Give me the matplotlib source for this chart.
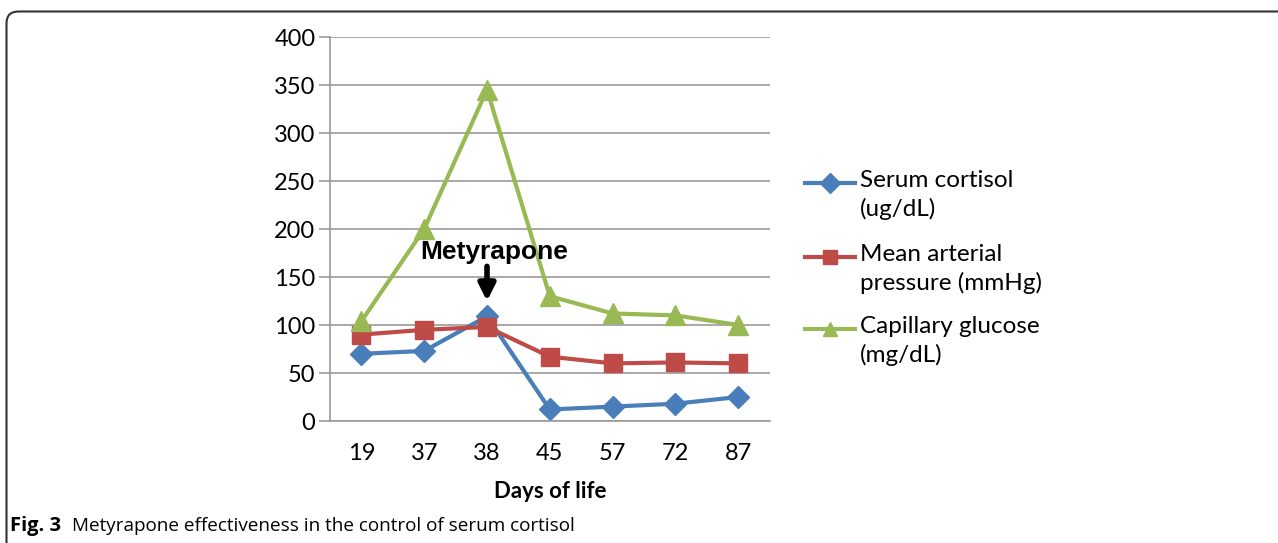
import matplotlib
matplotlib.use("Agg")
import matplotlib.pyplot as plt
from matplotlib.lines import Line2D
from matplotlib.path import Path
from matplotlib.patches import PathPatch

days = ["19", "37", "38", "45", "57", "72", "87"]
cortisol = [70, 73, 109, 12, 15, 18, 25]
pressure = [90, 95, 98, 67, 60, 61, 60]
glucose = [104, 200, 345, 130, 112, 110, 100]
yticks = [0, 50, 100, 150, 200, 250, 300, 350, 400]
labels = ["Serum cortisol\n(ug/dL)", "Mean arterial\npressure (mmHg)", "Capillary glucose\n(mg/dL)"]

W, H = 1278, 543
fig = plt.figure(figsize=(W / 100, H / 100), dpi=100)
plt.rcParams['font.family'] = ['Lato', 'DejaVu Sans']

colors = ['#4A7EBB', '#BE4B48', '#98B954']
markers = ['D', 's', '^']
msizes = [11, 13, 14]

ax = fig.add_axes([330 / W, 1 - 421 / H, (769.6 - 330) / W, (421 - 37) / H])
x = list(range(len(days)))
for vals, c, m, ms, lab in zip([cortisol, pressure, glucose], colors, markers, msizes, labels):
    ax.plot(x, vals, color=c, lw=3, marker=m, ms=ms, label=lab)

ax.set_xlim(-0.5, len(days) - 0.5)
ax.set_ylim(0, 400)
ax.set_yticks(yticks)
ax.set_xticks(x)
ax.set_xticklabels(days)
ax.yaxis.grid(True, color='#9A9A9A', lw=1.2)
ax.set_axisbelow(True)
for s in ['top', 'right']:
    ax.spines[s].set_visible(False)
for s in ['left', 'bottom']:
    ax.spines[s].set_color('#9A9A9A')
    ax.spines[s].set_linewidth(1.2)
ax.tick_params(axis='y', length=8, color='#9A9A9A', width=1.2, labelsize=17, pad=2.5)
ax.tick_params(axis='x', length=0, labelsize=17, pad=16)
ax.set_xlabel("Days of life", fontsize=16, fontweight='bold', labelpad=12)

# annotation
ax.text(2.12, 176, "Metyrapone", fontsize=19, fontweight='bold', ha='center', va='center',
        family=['Liberation Sans', 'DejaVu Sans'])
ax.annotate("", xy=(2, 122), xytext=(2, 164),
            arrowprops=dict(arrowstyle='-|>,head_width=0.5,head_length=1.0', color='black', lw=4))

# legend drawn manually (handle aligned with the first text line)
first_line_y = [183, 257, 329]
for yy, c, m, lab in zip(first_line_y, colors, markers, labels):
    fy = 1 - yy / H
    fig.add_artist(Line2D([805 / W, 855 / W], [fy, fy], transform=fig.transFigure,
                          color=c, lw=3))
    fig.add_artist(Line2D([830 / W], [fy], transform=fig.transFigure, color=c,
                          marker=m, ms=10, lw=0))
    fig.text(860 / W, 1 - (yy - 13) / H, lab, fontsize=17.5, va='top', ha='left',
             linespacing=1.38)

# frame with rounded top-left corner
r = 12
fy0 = 1 - 11.5 / H
verts = [(1.0, fy0), ((6.5 + r) / W, fy0), (6.5 / W, fy0), (6.5 / W, 1 - (11.5 + r) / H), (6.5 / W, 0.0)]
codes = [Path.MOVETO, Path.LINETO, Path.CURVE3, Path.CURVE3, Path.LINETO]
fig.patches.append(PathPatch(Path(verts, codes), transform=fig.transFigure, fill=False,
                             edgecolor='#333333', lw=1.5))

fig.text(10 / W, 1 - 526 / H, "Fig. 3", fontsize=14.5, fontweight='bold', va='center',
         family=['Open Sans', 'DejaVu Sans'])
fig.text(72 / W, 1 - 526 / H, "Metyrapone effectiveness in the control of serum cortisol",
         fontsize=13.6, va='center', family=['Open Sans', 'DejaVu Sans'])

fig.savefig("out.png", dpi=100)
